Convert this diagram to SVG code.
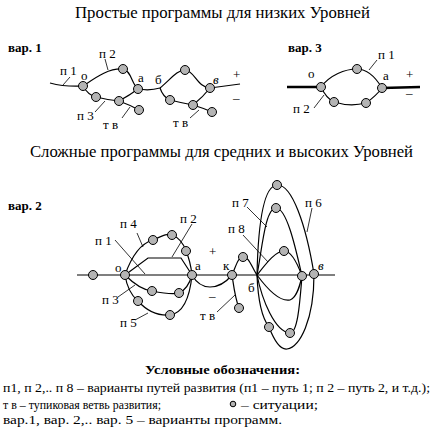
<svg xmlns="http://www.w3.org/2000/svg" width="434" height="439" viewBox="0 0 434 439">
<style>
text{font-family:"Liberation Serif","DejaVu Serif",serif;fill:#000}
.t{font-size:16px}
.l{font-size:13px}
.b{font-size:13px;font-weight:bold}
.c{fill:none;stroke:#000;stroke-width:1.2}
.th{fill:none;stroke:#000;stroke-width:2.6}
.ld{fill:none;stroke:#000;stroke-width:0.8}
.n{fill:#b4b4b4;stroke:#000;stroke-width:1}
</style>
<rect width="434" height="439" fill="#fff"/>
<text class="t" x="75" y="18" textLength="295" lengthAdjust="spacingAndGlyphs">Простые программы для низких Уровней</text>
<text class="t" x="30" y="157" textLength="383" lengthAdjust="spacingAndGlyphs">Сложные программы для средних и высоких Уровней</text>

<g id="connectors">
<!-- var 1 -->
<path class="c" d="M50,83 Q65,87 83,86"/>
<path class="c" d="M83,86 C95,78 108,68 123,69 C131,70 132,85 138,89"/>
<path class="c" d="M83,86 Q88,95 96,97 Q108,100 119,101 Q130,95 138,89"/>
<path class="c" d="M119,101 Q130,105 139,110"/>
<path class="c" d="M138,89 Q150,91 160,88"/>
<path class="c" d="M160,88 C170,80 177,70 185,70 C194,70 198,88 210,88"/>
<path class="c" d="M160,88 Q163,97 170,100 Q182,103 193,105 Q203,97 210,88"/>
<path class="c" d="M193,105 Q203,108 212,112"/>
<path class="c" d="M210,88 Q225,86 240,84"/>
<path class="ld" d="M70,77 L63,85 M105,59 L108,70 M95,112 L105,101 M122,118 L130,107 M190,118 L199,110"/>
<!-- var 3 -->
<path class="th" d="M287,87 L321,87 M382,88 L420,87"/>
<path class="c" d="M321,87 C330,75 345,69 357,69 C368,69 376,78 382,88"/>
<path class="c" d="M321,87 Q326,98 334,102 Q350,107 366,103 Q376,96 382,88"/>
<path class="ld" d="M377,60 L369,70 M314,108 L324,95"/>
<!-- var 2 -->
<path class="c" stroke-width="1.5" d="M77,275 L335,275"/>
<path class="c" d="M125,275 C132,255 142,243 153,240 C162,236 167,233 172,235 C180,238 184,245 186,251 C189,258 191,266 192,275"/>
<path class="c" d="M125,275 C127,288 132,296 138,301 C146,310 157,316 170,315 C184,313 190,295 192,275"/>
<path class="c" d="M125,275 C135,285 143,290 152,291 C162,293 172,295 179,293 C186,290 190,282 192,275"/>
<path class="c" d="M125,275 L148,258 L181,258 L192,275"/>
<path class="c" d="M192,275 C196,282 202,287 210,287 C220,287 227,281 232,275"/>
<path class="c" d="M232,275 C236,266 238,257 243,257 C249,256 252,268 257,275"/>
<path class="c" d="M232,275 C234,288 235,298 239,308"/>
<path class="c" d="M257,275 C258,230 262,186 277,185 C292,184 306,225 314,274"/>
<path class="c" d="M257,275 C262,250 265,208 276,208 C287,208 296,250 302,276"/>
<path class="c" d="M257,275 C265,265 275,251 284,251 C292,251 298,265 302,276"/>
<path class="c" d="M257,275 C268,290 280,302 290,300 C297,298 300,285 302,276"/>
<path class="c" d="M257,275 C262,300 275,332 290,333 C298,333 300,300 302,276"/>
<path class="c" d="M257,275 C258,300 262,318 269,327 C274,340 280,350 287,349 C300,347 314,320 314,274"/>
<path class="ld" d="M137,233 L143,247 M115,240 L145,274 M192,224 L172,257 M118,297 L135,285 M135,320 L148,313 M217,312 L235,295 M247,207 L267,227 M312,208 L307,232 M243,235 L268,262"/>
</g>

<g id="var1">
<text class="b" x="8" y="52">вар. 1</text>
<circle class="n" cx="83" cy="86" r="4.5"/>
<circle class="n" cx="123" cy="69" r="4.5"/>
<circle class="n" cx="138" cy="89" r="4.5"/>
<circle class="n" cx="96" cy="97" r="4.5"/>
<circle class="n" cx="119" cy="101" r="4.5"/>
<circle class="n" cx="139" cy="110" r="4.5"/>
<circle class="n" cx="185" cy="70" r="4.5"/>
<circle class="n" cx="170" cy="100" r="4.5"/>
<circle class="n" cx="193" cy="105" r="4.5"/>
<circle class="n" cx="210" cy="88" r="4.5"/>
<circle class="n" cx="212" cy="112" r="4.5"/>
<text class="l" x="60" y="75">п 1</text>
<text class="l" x="81" y="80">о</text>
<text class="l" x="99" y="58">п 2</text>
<text class="l" x="77" y="120">п 3</text>
<text class="l" x="103" y="129">т в</text>
<text class="l" x="138" y="82">а</text>
<text class="l" x="155" y="84">б</text>
<text class="l" x="173" y="127">т в</text>
<text class="l" x="213" y="84" font-style="italic">в</text>
<text class="l" x="233" y="79">+</text>
<text class="l" x="233" y="102">–</text>
</g>

<g id="var3">
<text class="b" x="288" y="52">вар. 3</text>
<circle class="n" cx="321" cy="87" r="4.5"/>
<circle class="n" cx="357" cy="69" r="4.5"/>
<circle class="n" cx="382" cy="88" r="4.5"/>
<circle class="n" cx="334" cy="102" r="4.5"/>
<circle class="n" cx="366" cy="103" r="4.5"/>
<text class="l" x="308" y="78">о</text>
<text class="l" x="383" y="80">а</text>
<text class="l" x="378" y="59">п 1</text>
<text class="l" x="293" y="113">п 2</text>
<text class="l" x="406" y="79">+</text>
<text class="l" x="406" y="97">–</text>
</g>

<g id="var2">
<text class="b" x="8" y="210">вар. 2</text>
<circle class="n" cx="93" cy="275" r="4.5"/>
<circle class="n" cx="125" cy="275" r="4.5"/>
<circle class="n" cx="192" cy="275" r="4.5"/>
<circle class="n" cx="153" cy="240" r="4.5"/>
<circle class="n" cx="172" cy="235" r="4.5"/>
<circle class="n" cx="186" cy="251" r="4.5"/>
<circle class="n" cx="152" cy="291" r="4.5"/>
<circle class="n" cx="179" cy="293" r="4.5"/>
<circle class="n" cx="138" cy="301" r="4.5"/>
<circle class="n" cx="170" cy="315" r="4.5"/>
<circle class="n" cx="232" cy="275" r="4.5"/>
<circle class="n" cx="243" cy="257" r="4.5"/>
<circle class="n" cx="239" cy="308" r="4.5"/>
<circle class="n" cx="277" cy="185" r="4.5"/>
<circle class="n" cx="276" cy="208" r="4.5"/>
<circle class="n" cx="284" cy="251" r="4.5"/>
<circle class="n" cx="302" cy="276" r="4.5"/>
<circle class="n" cx="314" cy="274" r="4.5"/>
<circle class="n" cx="269" cy="327" r="4.5"/>
<circle class="n" cx="290" cy="333" r="4.5"/>
<text class="l" x="120" y="228">п 4</text>
<text class="l" x="95" y="245">п 1</text>
<text class="l" x="180" y="223">п 2</text>
<text class="l" x="115" y="272">о</text>
<text class="l" x="195" y="270">а</text>
<text class="l" x="102" y="304">п 3</text>
<text class="l" x="120" y="327">п 5</text>
<text class="l" x="209" y="256">+</text>
<text class="l" x="209" y="300">–</text>
<text class="l" x="223" y="270">к</text>
<text class="l" x="200" y="320">т в</text>
<text class="l" x="248" y="292">б</text>
<text class="l" x="232" y="207">п 7</text>
<text class="l" x="305" y="207">п 6</text>
<text class="l" x="228" y="233">п 8</text>
<text class="l" x="318" y="270" font-style="italic">в</text>
</g>

<g id="legend">
<text class="b" x="145" y="374" textLength="155" lengthAdjust="spacingAndGlyphs">Условные  обозначения:</text>
<text class="l" x="3" y="392" textLength="427" lengthAdjust="spacingAndGlyphs">п1, п 2,.. п 8 – варианты путей развития (п1 – путь 1; п 2 – путь 2, и т.д.);</text>
<text class="l" x="3" y="409" textLength="158" lengthAdjust="spacingAndGlyphs">т в – тупиковая ветвь развития;</text>
<circle class="n" cx="233" cy="404" r="2.8"/>
<text class="l" x="241" y="409" textLength="77" lengthAdjust="spacingAndGlyphs">– ситуации;</text>
<text class="l" x="3" y="424" textLength="279" lengthAdjust="spacingAndGlyphs">вар.1, вар. 2,..  вар. 5 – варианты программ.</text>
</g>
</svg>
